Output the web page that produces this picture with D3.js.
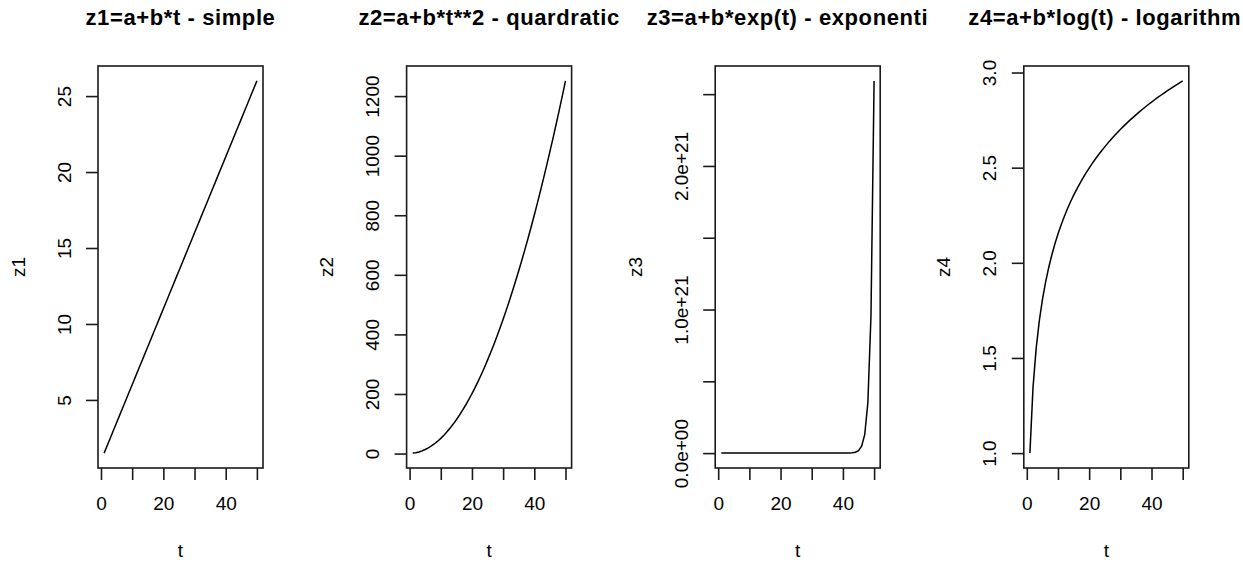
<!DOCTYPE html>
<html>
<head>
<meta charset="utf-8">
<script src="https://cdn.jsdelivr.net/npm/d3@7"></script>
<style>
body { margin: 0; background: #fff; }
svg text { font-family: "Liberation Sans", Arial, Helvetica, sans-serif; fill: #000; }
</style>
</head>
<body>
<svg id="chart" width="1243" height="566"></svg>
<script>
// t = 1..50
var t = [1,2,3,4,5,6,7,8,9,10,11,12,13,14,15,16,17,18,19,20,21,22,23,24,25,
         26,27,28,29,30,31,32,33,34,35,36,37,38,39,40,41,42,43,44,45,46,47,48,49,50];

var z1 = [1.5,2,2.5,3,3.5,4,4.5,5,5.5,6,6.5,7,7.5,8,8.5,9,9.5,10,10.5,11,11.5,12,12.5,13,13.5,
          14,14.5,15,15.5,16,16.5,17,17.5,18,18.5,19,19.5,20,20.5,21,21.5,22,22.5,23,23.5,24,24.5,25,25.5,26];

var z2 = [1.5,3,5.5,9,13.5,19,25.5,33,41.5,51,61.5,73,85.5,99,113.5,129,145.5,163,181.5,201,
          221.5,243,265.5,289,313.5,339,365.5,393,421.5,451,481.5,513,545.5,579,613.5,649,685.5,723,
          761.5,801,841.5,883,925.5,969,1013.5,1059,1105.5,1153,1201.5,1251];

var z3 = [2.36,4.69,11.04,28.3,75.2,202.7,549.3,1491,4052,11014,29938,81378,221208,6.013e5,1.6345e6,
          4.443e6,1.2077e7,3.283e7,8.924e7,2.4258e8,6.594e8,1.7925e9,4.8724e9,1.3245e10,3.6002e10,
          9.7865e10,2.6603e11,7.2313e11,1.9657e12,5.3432e12,1.4524e13,3.9482e13,1.0732e14,2.9173e14,
          7.93e14,2.1556e15,5.8595e15,1.5928e16,4.3297e16,1.1769e17,3.1992e17,8.6963e17,2.3639e18,
          6.4259e18,1.7467e19,4.748e19,1.2906e20,3.5084e20,9.5367e20,2.5924e21];

var z4 = [1.0,1.3466,1.5493,1.6931,1.8047,1.8959,1.973,2.0397,2.0986,2.1513,2.199,2.2425,2.2825,
          2.3195,2.354,2.3863,2.4166,2.4452,2.4722,2.4979,2.5222,2.5455,2.5678,2.589,2.6094,2.629,
          2.6479,2.6661,2.6836,2.7006,2.717,2.7329,2.7483,2.7632,2.7777,2.7918,2.8055,2.8188,2.8318,
          2.8444,2.8568,2.8689,2.8806,2.8921,2.9033,2.9143,2.9251,2.9356,2.9459,2.956];

// titles as they show (the last two run past their panel and are cut there)
var titles = ['z1=a+b*t - simple', 'z2=a+b*t**2 - quardratic',
              'z3=a+b*exp(t) - exponenti', 'z4=a+b*log(t) - logarithm'];
var yNames = ['z1', 'z2', 'z3', 'z4'];

var xTicks = [0, 10, 20, 30, 40, 50];
var xTickLabels = ['0', '', '20', '', '40', ''];

var yTicks = [
  [5, 10, 15, 20, 25],
  [0, 200, 400, 600, 800, 1000, 1200],
  [0, 5e20, 1e21, 1.5e21, 2e21, 2.5e21],
  [1.0, 1.5, 2.0, 2.5, 3.0]
];
var yTickLabels = [
  ['5', '10', '15', '20', '25'],
  ['0', '200', '400', '600', '800', '1000', '1200'],
  ['0.0e+00', '', '1.0e+21', '', '2.0e+21', ''],
  ['1.0', '1.5', '2.0', '2.5', '3.0']
];
var series = [z1, z2, z3, z4];

// layout
var boxLeft0 = 98, boxStep = 308.6, boxW = 165;
var boxTop = 66, boxBot = 468;
var titleStart = [null, null, 646.7, 968.3];
var fs = 19;

var svg = d3.select('#chart');

// R style 4% padding on each side
function padded(ext) {
  var d = (ext[1] - ext[0]) * 0.04;
  return [ext[0] - d, ext[1] + d];
}

series.forEach(function(vals, i) {
  var left = boxLeft0 + i * boxStep;
  var right = left + boxW;

  var x = d3.scaleLinear().domain(padded(d3.extent(t))).range([left, right]);
  var y = d3.scaleLinear().domain(padded(d3.extent(vals))).range([boxBot, boxTop]);

  var g = svg.append('g');

  g.append('text')
    .attr('x', titleStart[i] == null ? (left + right) / 2 : titleStart[i])
    .attr('y', 25)
    .attr('text-anchor', titleStart[i] == null ? 'middle' : 'start')
    .style('font-weight', 'bold')
    .style('font-size', '22px')
    .style('letter-spacing', '0.6px')
    .text(titles[i]);

  // line
  var line = d3.line()
    .x(function(d, j) { return x(t[j]); })
    .y(function(d) { return y(d); });

  g.append('path')
    .datum(vals)
    .attr('d', line)
    .attr('fill', 'none')
    .attr('stroke', '#000')
    .attr('stroke-width', 1.5);

  // box
  g.append('rect')
    .attr('x', left).attr('y', boxTop)
    .attr('width', boxW).attr('height', boxBot - boxTop)
    .attr('fill', 'none')
    .attr('stroke', '#1a1a1a')
    .attr('stroke-width', 1.6);

  // x axis
  var xa = g.append('g')
    .attr('transform', 'translate(0,' + boxBot + ')')
    .call(d3.axisBottom(x)
      .tickValues(xTicks)
      .tickFormat(function(d, j) { return xTickLabels[j]; })
      .tickSize(12)
      .tickPadding(17));
  xa.select('.domain').remove();
  xa.selectAll('line').attr('stroke', '#1a1a1a').attr('stroke-width', 1.6);
  xa.selectAll('text').style('font-size', fs + 'px').attr('font-family', null);

  // y axis
  var ya = g.append('g')
    .attr('transform', 'translate(' + left + ',0)')
    .call(d3.axisLeft(y)
      .tickValues(yTicks[i])
      .tickFormat(function(d, j) { return yTickLabels[i][j]; })
      .tickSize(12));
  ya.select('.domain').remove();
  ya.selectAll('line').attr('stroke', '#1a1a1a').attr('stroke-width', 1.6);
  ya.selectAll('text')
    .style('font-size', fs + 'px')
    .attr('font-family', null)
    .attr('x', null)
    .attr('dy', '0.35em')
    .attr('text-anchor', 'middle')
    .attr('transform', 'translate(-34,0) rotate(-90)');

  // axis titles
  g.append('text')
    .attr('transform', 'translate(' + (left - 80) + ',' + ((boxTop + boxBot) / 2) + ') rotate(-90)')
    .attr('dy', '0.35em')
    .attr('text-anchor', 'middle')
    .style('font-size', fs + 'px')
    .text(yNames[i]);

  g.append('text')
    .attr('x', (left + right) / 2)
    .attr('y', 550)
    .attr('dy', '0.35em')
    .attr('text-anchor', 'middle')
    .style('font-size', fs + 'px')
    .text('t');
});
</script>
</body>
</html>
